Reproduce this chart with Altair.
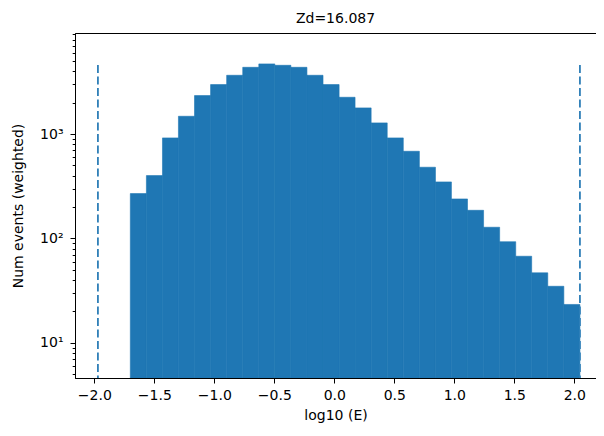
import altair as alt
import pandas as pd

# Histogram bin edges (log10 E) and weighted counts
bin_edges = [-1.700, -1.566, -1.432, -1.299, -1.165, -1.031, -0.897, -0.763,
             -0.629, -0.496, -0.362, -0.228, -0.094, 0.040, 0.173, 0.307,
             0.441, 0.575, 0.709, 0.843, 0.976, 1.110, 1.244, 1.378,
             1.512, 1.645, 1.779, 1.913, 2.047]
counts = [269, 400, 919, 1481, 2338, 2980, 3658, 4363,
          4704, 4560, 4363, 3658, 2980, 2252, 1782, 1280,
          919, 684, 481, 348, 239, 186, 128, 93,
          67.5, 46.8, 34.8, 23.3]

# Dashed vertical markers
vline_x = [-1.97, 2.047]
vline_top = 4600

# Axes
x_domain = [-2.161, 2.181]
y_domain = [4.6, 9300]
x_ticks = [-2.0, -1.5, -1.0, -0.5, 0.0, 0.5, 1.0, 1.5, 2.0]
y_major = [10, 100, 1000]
y_minor = [5, 6, 7, 8, 9, 20, 30, 40, 50, 60, 70, 80, 90,
           200, 300, 400, 500, 600, 700, 800, 900,
           2000, 3000, 4000, 5000, 6000, 7000, 8000, 9000]

title_text = "Zd=16.087"
x_title = "log10 (E)"
y_title = "Num events (weighted)"

hist = pd.DataFrame({"lo": bin_edges[:-1], "hi": bin_edges[1:], "count": counts})
vlines = pd.DataFrame({"x": vline_x})

x_scale = alt.Scale(domain=x_domain, nice=False, zero=False)
y_scale = alt.Scale(type="log", domain=y_domain, nice=False)

x_axis = alt.Axis(values=x_ticks, format=".1f", title=x_title, tickSize=5,
                  labelPadding=5, titlePadding=6, labelFlush=False)
y_axis = alt.Axis(
    values=y_major + y_minor,
    labelExpr="datum.value == 10 ? '10¹' : datum.value == 100 ? '10²' : datum.value == 1000 ? '10³' : ''",
    tickSize={"condition": {"test": "datum.value == 10 || datum.value == 100 || datum.value == 1000",
                            "value": 5}, "value": 2.8},
    labelOverlap=False, labelFlush=False, labelPadding=7, titlePadding=14,
    title=y_title,
)

bars = alt.Chart(hist).mark_rect(color="#1f77b4", stroke="#1f77b4",
                                 strokeWidth=0.6, clip=True).encode(
    x=alt.X("lo:Q", scale=x_scale, axis=x_axis),
    x2="hi:Q",
    y=alt.Y("count:Q", scale=y_scale, axis=y_axis),
    y2=alt.Y2(datum=y_domain[0]),
)

rules = alt.Chart(vlines).mark_rule(color="#2f7fb8", strokeWidth=1.8,
                                    strokeDash=[8, 3.5], clip=True).encode(
    x=alt.X("x:Q", scale=x_scale, axis=x_axis),
    y=alt.Y(datum=vline_top, scale=y_scale, axis=y_axis),
    y2=alt.Y2(datum=y_domain[0]),
)

chart = alt.layer(bars, rules).properties(
    width=521,
    height=345,
    title=alt.Title(title_text, offset=1, fontSize=14, font="DejaVu Sans",
                    fontWeight="normal"),
    padding={"left": 67, "top": 25, "right": 0, "bottom": 46},
    autosize="none",
    background="white",
).configure_axis(
    domainColor="black", tickColor="black", labelColor="black", titleColor="black",
    labelFont="DejaVu Sans", titleFont="DejaVu Sans", labelFontSize=14,
    titleFontSize=14, titleFontWeight="normal", grid=False,
    domainWidth=1, tickWidth=1,
).configure_view(
    stroke="black", strokeWidth=1,
).configure_title(
    font="DejaVu Sans", fontSize=14, fontWeight="normal", color="black",
)

chart.save("out.html", embed_options={"renderer": "svg", "actions": False})
